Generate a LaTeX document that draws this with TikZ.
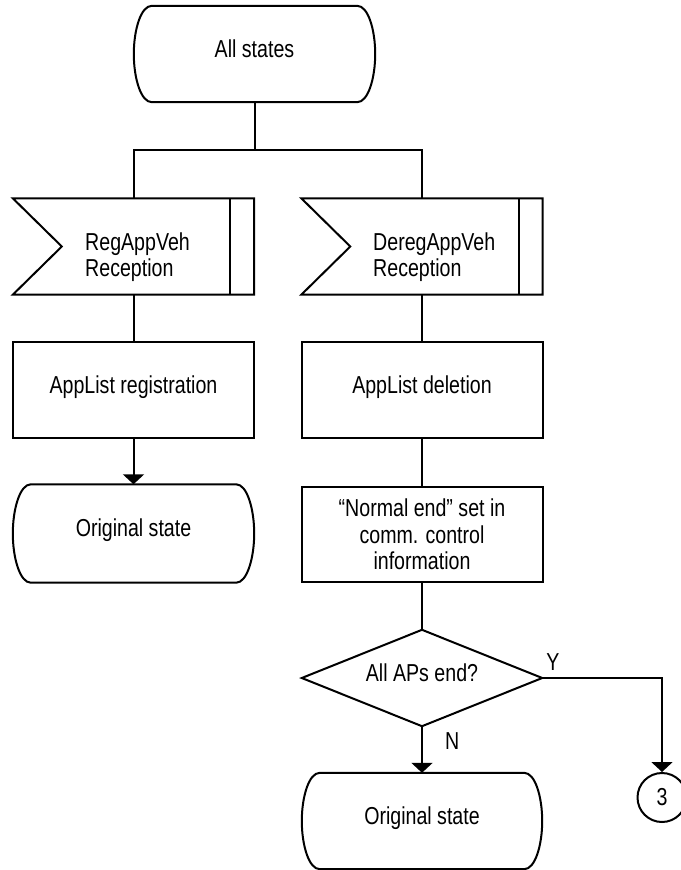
\documentclass[tikz,border=0pt]{standalone}
\usepackage{fontspec}
\setmainfont[FakeStretch=0.8]{Liberation Sans}
\usetikzlibrary{calc,arrows.meta}
\tikzset{
  ln/.style={line width=2pt},
  arr/.style={ln, -{Triangle[width=21pt,length=10pt]}},
  box/.style={rectangle, inner sep=0pt, minimum width=241pt, minimum height=96pt},
  txt/.style={font=\fontsize{24.5}{26.5}\selectfont},
  oneline/.style={text height=18pt, text depth=12pt},
}
\newcommand{\stateoutline}[1]{%
  \draw[ln] ($(#1.north west)+(18,0)$) -- ($(#1.north east)+(-18,0)$)
    .. controls ($(#1.north east)+(-7,0)$) and ($(#1.east)+(0,-24)$) .. (#1.east)
    .. controls ($(#1.east)+(0,24)$) and ($(#1.south east)+(-7,0)$) .. ($(#1.south east)+(-18,0)$)
    -- ($(#1.south west)+(18,0)$)
    .. controls ($(#1.south west)+(7,0)$) and ($(#1.west)+(0,24)$) .. (#1.west)
    .. controls ($(#1.west)+(0,-24)$) and ($(#1.north west)+(7,0)$) .. cycle;}
\newcommand{\signaloutline}[1]{%
  \draw[ln] (#1.north west) -- (#1.north east) -- (#1.south east) -- (#1.south west)
    -- ($(#1.west)+(49,0)$) -- cycle;
  \draw[ln] ($(#1.north east)+(-24,0)$) -- ($(#1.south east)+(-24,0)$);}
\begin{document}
\begin{tikzpicture}[x=1pt,y=-1pt,txt]
\fill[white] (0,0) rectangle (680,870);
\useasboundingbox (0,0) rectangle (680,870);

% nodes
\node[box, oneline] (all) at (254.5,54) {All states};
\coordinate (split) at (254.5,150);
\node[box] (reg) at (133.5,246.5) {};
\node[box] (dereg) at (422,246.5) {};
\node[anchor=west, align=left, inner sep=0pt] (regtxt) at (85,257) {RegAppVeh\\Reception};
\node[anchor=west, align=left, inner sep=0pt] (deregtxt) at (373,257) {DeregAppVeh\\Reception};
\node[box, draw, ln, oneline] (reglist) at (133.5,390) {AppList registration};
\node[box, draw, ln, oneline] (dellist) at (422,390) {AppList deletion};
\node[box, oneline, minimum height=98pt] (orig1) at (133.5,533.5) {Original state};
\node[box, draw, ln, align=center, minimum height=95pt] (normal) at (422,534.5) {“Normal end” set in\\comm. control\\information};
\node[box, oneline, minimum width=240pt] (dec) at (422,678) {All APs end?};
\node[box, oneline, minimum width=240pt] (orig2) at (422,821) {Original state};
\node[circle, draw, ln, inner sep=0pt, minimum size=49pt] (c3) at (662,797.5) {3};

% outlines
\stateoutline{all}
\stateoutline{orig1}
\stateoutline{orig2}
\signaloutline{reg}
\signaloutline{dereg}
\draw[ln] (dec.north) -- (dec.west) -- (dec.south) -- (dec.east) -- cycle;

% connectors
\draw[ln] (all.south) -- (split);
\draw[ln] (reg.north) -- (reg.north |- split) -- (dereg.north |- split) -- (dereg.north);
\draw[ln] (reg.south) -- (reglist.north);
\draw[arr] (reglist.south) -- (orig1.north);
\draw[ln] (dereg.south) -- (dellist.north);
\draw[ln] (dellist.south) -- (normal.north);
\draw[ln] (normal.south) -- (dec.north);
\draw[arr] (dec.south) -- node[pos=0.5, anchor=west, xshift=22pt, yshift=3pt, oneline, inner sep=0pt] (nlab) {N} (orig2.north);
\draw[arr] (dec.east) -| (c3.north);
\node[anchor=base, inner sep=0pt] (ylab) at (553,670) {Y};
\end{tikzpicture}
\end{document}
